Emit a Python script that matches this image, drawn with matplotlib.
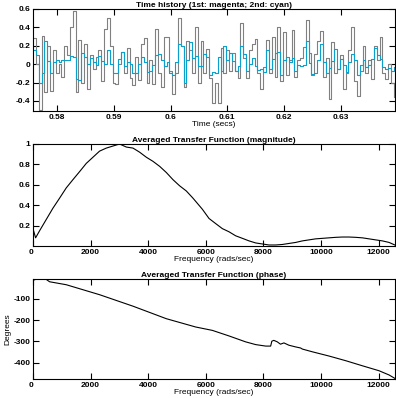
import numpy as np
import matplotlib
matplotlib.use('Agg')
import matplotlib.pyplot as plt
from matplotlib.ticker import FuncFormatter

# time history, one value every 2 samples (fs = 4000 Hz)
t_start = 0.5758
t_step = 0.0005
first_signal = [
    0.28, 0.0, -0.5, 0.31, -0.3, 0.2, -0.29, 0.15, -0.1, 0.0, -0.14, 0.2, 0.1, 0.4, 0.58, -0.3, 0.26, -0.2, 0.22, -0.27, 0.1, -0.05,
    0.08, 0.15, -0.18, 0.38, 0.5, 0.2, -0.2, -0.22, 0.0, 0.13, -0.1, 0.18, -0.15, -0.23, 0.08, -0.17, 0.22, 0.28, -0.2, 0.05, -0.22,
    0.38, -0.1, -0.25, 0.3, 0.3, -0.08, -0.33, -0.1, 0.5, 0.2, -0.25, 0.25, 0.15, -0.1, 0.4, -0.2, 0.25, -0.1, 0.17, -0.15, -0.42,
    -0.2, -0.42, 0.18, -0.1, 0.15, -0.08, 0.12, -0.07, -0.15, 0.45, 0.07, -0.15, 0.15, 0.22, 0.27, -0.1, -0.27, -0.03, 0.26, -0.1, 0.3,
    -0.14, 0.4, -0.18, 0.35, -0.12, 0.05, 0.37, -0.14, 0.05, 0.07, 0.19, 0.48, 0.12, -0.12, 0.11, 0.25, 0.36, -0.14, 0.07, -0.38, 0.24,
    -0.1, -0.05, 0.1, -0.27, -0.1, 0.15, 0.4, -0.18, -0.35, -0.08, 0.2, -0.1, 0.05, -0.16, 0.2, 0.05, 0.3, -0.1, -0.16, 0.0, -0.2, -0.36,
]
second_signal = [
    0.15, 0.1, -0.2, -0.1, 0.25, 0.03, -0.1, 0.02, 0.05, 0.02, 0.05, 0.04, 0.04, 0.09, 0.08, -0.16, -0.17, 0.12, 0.08, 0.0, 0.07, 0.02,
    -0.01, 0.09, 0.03, 0.0, 0.15, 0.0, -0.1, -0.1, 0.06, 0.13, -0.02, 0.02, 0.0, -0.1, -0.1, 0.0, 0.08, 0.02, -0.09, -0.07, -0.01,
    0.1, 0.11, 0.04, -0.02, 0.02, -0.1, -0.12, 0.02, 0.22, 0.2, -0.2, 0.04, 0.24, 0.07, 0.09, -0.02, -0.02, 0.11, 0.08, -0.12, -0.09,
    -0.1, 0.08, -0.08, 0.2, 0.05, 0.12, 0.03, -0.07, -0.02, 0.2, 0.11, -0.08, 0.0, 0.07, -0.02, -0.06, -0.05, -0.09, 0.15, -0.05, 0.06,
    0.12, 0.13, -0.12, 0.04, 0.08, 0.02, 0.07, -0.07, -0.01, -0.02, -0.01, 0.25, 0.01, -0.11, -0.1, 0.05, 0.22, 0.02, -0.1, -0.04, 0.03,
    0.17, -0.05, 0.06, -0.01, -0.09, 0.02, 0.11, 0.04, -0.12, -0.01, 0.04, -0.03, -0.01, 0.06, 0.18, 0.1, 0.06, -0.03, -0.05, -0.04, -0.07, -0.03,
]

# averaged transfer function, magnitude
mag_freq = [0, 90, 230, 460, 690, 925, 1155, 1385, 1620, 1850, 2080, 2310, 2545, 2775, 3005,
            3240, 3470, 3700, 3935, 4165, 4400, 4630, 4860, 5090, 5320, 5550, 5880, 6110, 6340,
            6575, 6800, 7035, 7270, 7500, 7730, 7960, 8190, 8425, 8655, 8885, 9120, 9350, 9580,
            9810, 10045, 10275, 10510, 10740, 10970, 11200, 11435, 11665, 11895, 12130, 12360, 12560]
magnitude = [0.17, 0.08, 0.15, 0.26, 0.37, 0.47, 0.57, 0.65, 0.73, 0.81, 0.87, 0.93, 0.96, 0.98, 1.0,
             0.97, 0.96, 0.92, 0.87, 0.83, 0.78, 0.72, 0.65, 0.59, 0.54, 0.47, 0.36, 0.27, 0.22,
             0.17, 0.14, 0.10, 0.075, 0.05, 0.03, 0.02, 0.01, 0.01, 0.015, 0.025, 0.035, 0.05, 0.06,
             0.07, 0.075, 0.08, 0.085, 0.088, 0.088, 0.085, 0.08, 0.07, 0.06, 0.05, 0.035, 0.01]

# averaged transfer function, phase
phase_freq = [0, 90, 460, 576, 1155, 2312, 3470, 4628, 5645, 6225, 6800, 7380, 7730, 8080, 8250,
              8290, 8360, 8480, 8590, 8710, 8885, 9120, 9290, 9350, 9700, 10280, 10860, 11440,
              12010, 12360, 12560]
phase = [-12, -8, -8, -19, -33, -80, -134, -193, -232, -248, -274, -302, -315, -322, -322,
         -299, -295, -302, -313, -307, -318, -326, -331, -336, -349, -369, -391, -415,
         -438, -458, -474]

plt.rcParams['font.family'] = ['Liberation Sans', 'DejaVu Sans']
plt.rcParams['font.weight'] = 'bold'
plt.rcParams['font.size'] = 6
plt.rcParams['axes.unicode_minus'] = False

W, H = 396, 398
fig = plt.figure(figsize=(W / 100, H / 100), dpi=100)


def make_axes(top_px, bottom_px):
    left, right = 33, 395
    return fig.add_axes([left / W, 1 - bottom_px / H, (right - left) / W, (bottom_px - top_px) / H])


def style(ax):
    ax.tick_params(direction='in', top=True, right=True, length=4, width=0.8, pad=2, labelsize=6)
    for s in ax.spines.values():
        s.set_linewidth(0.8)
    ax.xaxis.set_major_formatter(FuncFormatter(lambda v, p: '%g' % v))
    ax.yaxis.set_major_formatter(FuncFormatter(lambda v, p: '%g' % v))


fmt_title = dict(fontsize=6, fontweight='bold', pad=1.5)

# time history
ax1 = make_axes(9, 111)
t = t_start + t_step * np.arange(len(first_signal))
ax1.step(t, first_signal, where='post', color='#808080', lw=0.8)
ax1.step(t, second_signal, where='post', color='#0aa0cc', lw=0.8)
ax1.set_xlim(0.5758, 0.6395)
ax1.set_ylim(-0.51, 0.6)
ax1.set_xticks([0.58, 0.59, 0.6, 0.61, 0.62, 0.63])
ax1.set_yticks([-0.4, -0.2, 0, 0.2, 0.4, 0.6])
style(ax1)
ax1.set_title('Time history (1st: magenta; 2nd: cyan)', **fmt_title)
ax1.set_xlabel('Time (secs)', labelpad=0)

# magnitude
ax2 = make_axes(144, 246)
ax2.plot(mag_freq, magnitude, color='black', lw=0.8)
ax2.set_xlim(0, 12566)
ax2.set_ylim(0, 1.0)
ax2.set_xticks([0, 2000, 4000, 6000, 8000, 10000, 12000])
ax2.set_yticks([0.2, 0.4, 0.6, 0.8, 1.0])
style(ax2)
ax2.get_xticklabels()[0].set_horizontalalignment('right')
ax2.set_title('Averaged Transfer Function (magnitude)', **fmt_title)
ax2.set_xlabel('Frequency (rads/sec)', labelpad=0)

# phase
ax3 = make_axes(279, 379)
ax3.plot(phase_freq, phase, color='black', lw=0.8)
ax3.set_xlim(0, 12566)
ax3.set_ylim(-477, -6)
ax3.set_xticks([0, 2000, 4000, 6000, 8000, 10000, 12000])
ax3.set_yticks([-400, -300, -200, -100])
style(ax3)
ax3.get_xticklabels()[0].set_horizontalalignment('right')
ax3.set_title('Averaged Transfer Function (phase)', **fmt_title)
ax3.set_xlabel('Frequency (rads/sec)', labelpad=0)
ax3.set_ylabel('Degrees', labelpad=1)

fig.savefig('out.png', dpi=100)
